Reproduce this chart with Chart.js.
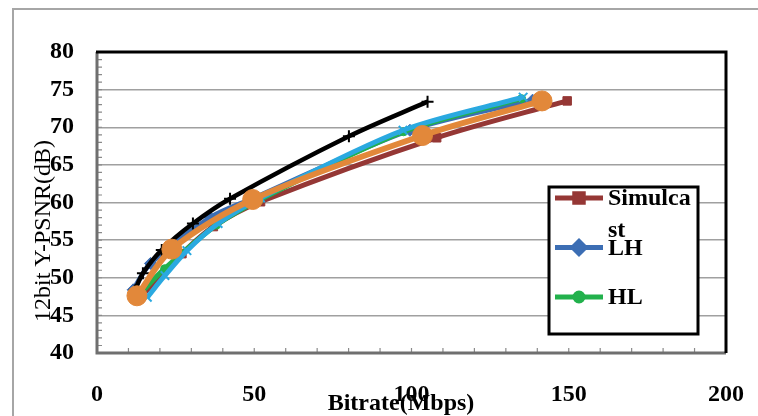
<!DOCTYPE html>
<html>
<head>
<meta charset="utf-8">
<script src="https://cdn.jsdelivr.net/npm/chart.js@4/dist/chart.umd.min.js"></script>
<style>
  html, body { margin: 0; padding: 0; background: #fff; }
  #rd { display: block; }
</style>
</head>
<body>
<canvas id="rd" width="758" height="416"></canvas>
<script>
// rate-distortion points: [bitrate Mbps, Y-PSNR dB]
const simulcast = [[14, 47.5], [27, 53.2], [37, 56.8], [52, 60.1], [108, 68.6], [149.5, 73.5]];
const lh = [[11.5, 48.4], [17, 51.9], [36, 58.0], [50, 60.6], [99.5, 69.6], [138.5, 73.6]];
const hl = [[13.5, 47.8], [21.5, 51.2], [38, 57.0], [51.5, 60.3], [97.5, 69.4], [135, 73.8]];
const series4 = [[16, 47.4], [21.6, 50.3], [28.6, 53.6], [38.5, 57.2], [52, 60.6], [97.3, 69.6], [135.5, 74.0]];
const series5 = [[12, 48.3], [14.6, 50.6], [20.6, 53.7], [30.5, 57.2], [42.3, 60.5], [80.1, 68.8], [105.1, 73.4]];
const series6 = [[12.7, 47.6], [23.8, 53.8], [49.5, 60.4], [103.5, 68.9], [141.5, 73.5]];

const seriesNames = ['Simulcast', 'LH', 'HL', 'Series4', 'Series5', 'Series6'];
const seriesData = [simulcast, lh, hl, series4, series5, series6];

const xTicks = [0, 50, 100, 150, 200];
const yTicks = [40, 45, 50, 55, 60, 65, 70, 75, 80];
const xTitle = 'Bitrate(Mbps)';
const yTitle = '12bit Y-PSNR(dB)';

const SERIF = '"Liberation Serif", "Times New Roman", serif';

const styles = [
  { color: '#953735', point: 'rect', radius: 6, width: 5 },
  { color: '#3C6EB4', point: 'rectRot', radius: 6, width: 5 },
  { color: '#22B14C', point: 'circle', radius: 4, width: 5 },
  { color: '#2AA9E0', point: 'crossRot', radius: 6, width: 5 },
  { color: '#000000', point: 'cross', radius: 6, width: 4.5 },
  { color: '#E2883A', point: 'circle', radius: 10, width: 6 }
];

const datasets = seriesData.map((pts, i) => ({
  label: seriesNames[i],
  data: pts.map(p => ({ x: p[0], y: p[1] })),
  borderColor: styles[i].color,
  backgroundColor: styles[i].color,
  borderWidth: styles[i].width,
  pointStyle: styles[i].point,
  pointRadius: styles[i].radius,
  pointBorderWidth: styles[i].point.startsWith('cross') ? 2 : 1,
  pointBorderColor: styles[i].color,
  tension: 0.3,
  order: seriesData.length - i   // later series drawn on top
}));

// plot frame, outer chart border, inward minor ticks
const framePlugin = {
  id: 'frame',
  beforeDraw(chart) {
    const c = chart.ctx;
    c.save();
    c.fillStyle = '#fff';
    c.fillRect(0, 0, chart.width, chart.height);
    c.strokeStyle = '#a6a6a6';
    c.lineWidth = 2;
    c.beginPath();
    c.moveTo(13, chart.height);
    c.lineTo(13, 9);
    c.lineTo(chart.width, 9);
    c.stroke();
    c.restore();
  },
  beforeDatasetsDraw(chart) {
    const { ctx: c, chartArea: a, scales } = chart;
    c.save();
    c.strokeStyle = '#8a8a8a';
    c.lineWidth = 1.2;
    c.beginPath();
    for (let v = 41; v < 80; v++) {
      const y = scales.y.getPixelForValue(v);
      c.moveTo(a.left, y); c.lineTo(a.left + 5, y);
    }
    for (let v = 10; v < 200; v += 10) {
      const x = scales.x.getPixelForValue(v);
      c.moveTo(x, a.bottom); c.lineTo(x, a.bottom - 5);
    }
    c.stroke();
    // axis lines
    c.strokeStyle = '#6f6f6f';
    c.lineWidth = 3;
    c.beginPath();
    c.moveTo(a.left, a.top); c.lineTo(a.left, a.bottom); c.lineTo(a.right, a.bottom);
    c.stroke();
    c.strokeStyle = '#000';
    c.beginPath();
    c.moveTo(a.left - 1, a.top); c.lineTo(a.right, a.top); c.lineTo(a.right, a.bottom);
    c.stroke();
    c.restore();
  },
  afterDraw(chart) {
    const { ctx: c } = chart;
    c.save();
    c.fillStyle = '#000';
    c.textAlign = 'center';
    c.textBaseline = 'middle';
    c.font = 'bold 24px ' + SERIF;
    c.fillText(xTitle, 401, 404);
    c.translate(44, 231);
    c.rotate(-Math.PI / 2);
    c.font = '24px ' + SERIF;
    c.fillText(yTitle, 0, 0);
    c.restore();
  }
};

// legend box drawn inside the plot; entries that don't fit are cut off
const boxLegend = {
  id: 'boxLegend',
  afterDatasetsDraw(chart) {
    const c = chart.ctx;
    const box = { left: 549, top: 187, right: 698, bottom: 334 };
    const rowH = 49.5;
    c.save();
    c.fillStyle = '#fff';
    c.fillRect(box.left, box.top, box.right - box.left, box.bottom - box.top);
    c.strokeStyle = '#000';
    c.lineWidth = 3;
    c.strokeRect(box.left, box.top, box.right - box.left, box.bottom - box.top);
    c.beginPath();
    c.rect(box.left, box.top, box.right - box.left, box.bottom - box.top);
    c.clip();
    c.font = 'bold 24px ' + SERIF;
    c.textBaseline = 'middle';
    c.textAlign = 'left';
    const textX = 608;
    const maxW = box.right - textX - 4;
    chart.data.datasets.forEach((ds, i) => {
      const y = box.top + 11 + i * rowH;
      if (y + 10 > box.bottom) return;
      c.strokeStyle = ds.borderColor;
      c.lineWidth = 5;
      c.beginPath();
      c.moveTo(555, y); c.lineTo(603, y);
      c.stroke();
      Chart.helpers.drawPoint(c, {
        pointStyle: ds.pointStyle,
        radius: Math.min(ds.pointRadius, 6),
        borderWidth: 1
      }, 579, y);
      c.fillStyle = ds.borderColor;
      c.fill();
      // wrap label by characters
      const lines = [];
      let cur = '';
      for (const ch of ds.label) {
        if (cur && c.measureText(cur + ch).width > maxW) { lines.push(cur); cur = ch; }
        else cur += ch;
      }
      lines.push(cur);
      c.fillStyle = '#000';
      lines.forEach((ln, k) => c.fillText(ln, textX, y + 1 + k * 32));
    });
    c.restore();
  }
};

new Chart(document.getElementById('rd'), {
  type: 'line',
  data: { datasets },
  options: {
    responsive: false,
    devicePixelRatio: 1,
    animation: false,
    layout: { padding: { top: 52, right: 32, left: 0, bottom: 0 } },
    plugins: {
      legend: { display: false },
      tooltip: { enabled: false }
    },
    scales: {
      x: {
        type: 'linear',
        min: xTicks[0],
        max: xTicks[xTicks.length - 1],
        afterFit(s) { s.height = 63; s.paddingLeft = 0; s.paddingRight = 0; },
        afterBuildTicks(s) { s.ticks = xTicks.map(v => ({ value: v })); },
        grid: { display: false, drawTicks: false },
        border: { display: false },
        ticks: {
          padding: 27,
          color: '#000',
          font: { family: SERIF, size: 24, weight: 'bold' }
        }
      },
      y: {
        type: 'linear',
        min: yTicks[0],
        max: yTicks[yTicks.length - 1],
        afterFit(s) { s.width = 97; },
        afterBuildTicks(s) { s.ticks = yTicks.map(v => ({ value: v })); },
        grid: { color: '#a0a0a0', lineWidth: 1.5, drawTicks: false },
        border: { display: false },
        ticks: {
          padding: 23,
          color: '#000',
          font: { family: SERIF, size: 24, weight: 'bold' }
        }
      }
    }
  },
  plugins: [framePlugin, boxLegend]
});
</script>
</body>
</html>
